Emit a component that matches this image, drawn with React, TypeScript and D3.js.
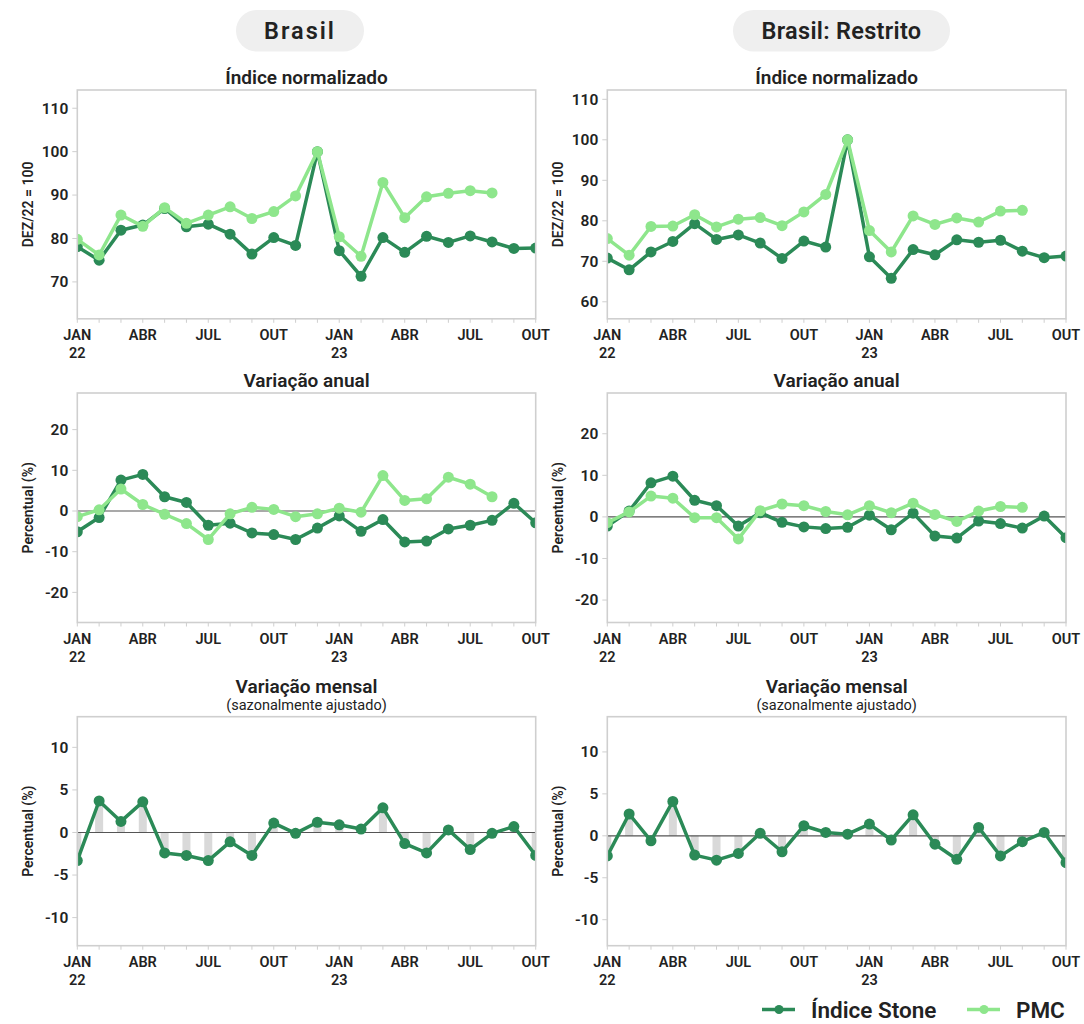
import React from "react";
import * as d3 from "d3";

// ---------- DATA ----------
const months = ["JAN","FEV","MAR","ABR","MAI","JUN","JUL","AGO","SET","OUT","NOV","DEZ",
  "JAN","FEV","MAR","ABR","MAI","JUN","JUL","AGO","SET","OUT"];
const xTickIdx = [0, 3, 6, 9, 12, 15, 18, 21];
const yearLabels: Record<number, string> = { 0: "22", 12: "23" };

const brasilIndiceStone = [78.1,75.0,81.9,83.1,86.9,82.7,83.3,81.0,76.4,80.2,78.4,100,77.2,71.3,80.2,76.8,80.5,79.1,80.6,79.2,77.7,77.8];
const brasilIndicePMC = [79.8,76.2,85.4,82.8,87.1,83.5,85.4,87.3,84.6,86.2,89.8,100,80.4,75.9,92.9,84.8,89.6,90.4,91.0,90.5];
const restritoIndiceStone = [70.8,67.9,72.3,74.9,79.3,75.4,76.5,74.5,70.7,75.0,73.5,100,71.1,65.8,72.9,71.6,75.3,74.7,75.2,72.5,70.9,71.3];
const restritoIndicePMC = [75.6,71.5,78.6,78.7,81.5,78.5,80.4,80.8,78.8,82.2,86.5,100,77.6,72.3,81.2,79.1,80.7,79.7,82.4,82.6];

const brasilAnualStone = [-5.1,-1.6,7.6,9.0,3.5,2.1,-3.5,-3.0,-5.4,-5.8,-7.0,-4.2,-1.2,-5.0,-2.1,-7.6,-7.4,-4.4,-3.5,-2.3,1.9,-2.9];
const brasilAnualPMC = [-1.4,0.3,5.4,1.6,-0.8,-3.1,-7.0,-0.7,0.9,0.4,-1.4,-0.7,0.7,-0.3,8.7,2.6,3.0,8.3,6.6,3.5];
const restritoAnualStone = [-2.2,1.4,8.2,9.8,4.0,2.7,-2.2,1.0,-1.3,-2.4,-2.8,-2.5,0.4,-3.1,0.9,-4.6,-5.1,-1.0,-1.6,-2.7,0.2,-5.0];
const restritoAnualPMC = [-1.4,1.2,5.0,4.5,-0.2,-0.2,-5.3,1.5,3.1,2.7,1.3,0.5,2.7,1.0,3.3,0.6,-1.1,1.4,2.5,2.3];

const brasilMensalStone = [-3.3,3.7,1.3,3.6,-2.4,-2.7,-3.3,-1.1,-2.7,1.1,-0.1,1.2,0.9,0.4,2.9,-1.3,-2.4,0.3,-2.0,-0.1,0.7,-2.7];
const restritoMensalStone = [-2.4,2.6,-0.6,4.1,-2.3,-2.9,-2.1,0.3,-1.9,1.2,0.4,0.2,1.4,-0.5,2.5,-1.0,-2.8,1.0,-2.4,-0.7,0.4,-3.2];

const indiceTicksBrasil = [70, 80, 90, 100, 110];
const indiceTicksRestrito = [60, 70, 80, 90, 100, 110];
const anualTicks = [-20, -10, 0, 10, 20];
const mensalTicks = [-10, -5, 0, 5, 10];

const headers = ["Brasil", "Brasil: Restrito"];
const seriesNames = ["Índice Stone", "PMC"];

// ---------- STYLE ----------
const FONT = "Roboto, 'Noto Sans', sans-serif";
const C_STONE = "#2b8a57";
const C_PMC = "#8ee68c";
const TXT = "#222";
const BORDER = "#cfcfcf";

const cols = [
  { x0: 77.3, x1: 535.7 },
  { x0: 607.3, x1: 1066 },
];
const rows = [
  { y0: 90, y1: 318.8 },
  { y0: 393, y1: 622.5 },
  { y0: 716.7, y1: 945.7 },
];

type PanelProps = {
  id: string;
  col: number;
  row: number;
  domain: [number, number];
  ticks: number[];
  stone: number[];
  pmc?: number[];
  bars?: boolean;
  zero?: boolean;
  yLabel: string;
  title: string;
  subtitle?: string;
};

function Panel(p: PanelProps) {
  const { x0, x1 } = cols[p.col];
  const { y0, y1 } = rows[p.row];
  const x = d3.scaleLinear().domain([0, months.length - 1]).range([x0, x1]);
  const y = d3.scaleLinear().domain(p.domain).range([y1, y0]);
  const line = d3.line<number>().x((_, i) => x(i)).y((d) => y(d));
  const cx = (x0 + x1) / 2;
  const clipId = "clip-" + p.id;
  const renderSeries = (data: number[], color: string) => (
    <g>
      <path d={line(data) || ""} fill="none" stroke={color} strokeWidth={3.5} strokeLinejoin="round" />
      {data.map((d, i) => (
        <circle key={i} cx={x(i)} cy={y(d)} r={5.5} fill={color} />
      ))}
    </g>
  );
  return (
    <g>
      <defs>
        <clipPath id={clipId}>
          <rect x={x0} y={y0} width={x1 - x0} height={y1 - y0} />
        </clipPath>
      </defs>
      {/* title */}
      <text x={cx} y={p.row === 2 ? y0 - 24 : y0 - 6} textAnchor="middle" fontSize={19} fontWeight={600} fill={TXT} fontFamily={FONT}>
        {p.title}
      </text>
      {p.subtitle && (
        <text x={cx} y={y0 - 7} textAnchor="middle" fontSize={14.5} fill={TXT} fontFamily={FONT}>
          {p.subtitle}
        </text>
      )}
      {/* y axis ticks */}
      {p.ticks.map((t) => (
        <g key={t}>
          <line x1={x0 - 5} x2={x0} y1={y(t)} y2={y(t)} stroke={BORDER} strokeWidth={1} />
          <text x={x0 - 9} y={y(t)} dy="0.35em" textAnchor="end" fontSize={15.5} fontWeight={600} fill={TXT} fontFamily={FONT}>
            {t}
          </text>
        </g>
      ))}
      {/* y label */}
      <text
        transform={`translate(${x0 - 49},${(y0 + y1) / 2}) rotate(-90)`}
        textAnchor="middle"
        dy="0.35em"
        fontSize={14}
        fontWeight={600}
        fill={TXT}
        fontFamily={FONT}
      >
        {p.yLabel}
      </text>
      {/* x ticks */}
      {months.map((_, i) => (
        <line key={i} x1={x(i)} x2={x(i)} y1={y1} y2={y1 + 4} stroke={BORDER} strokeWidth={1} />
      ))}
      {xTickIdx.map((i) => (
        <g key={"xl" + i}>
          <text x={x(i)} y={y1 + 21} textAnchor="middle" fontSize={14.5} fontWeight={600} fill={TXT} fontFamily={FONT}>
            {months[i]}
          </text>
          {yearLabels[i] && (
            <text x={x(i)} y={y1 + 39} textAnchor="middle" fontSize={14.5} fontWeight={600} fill={TXT} fontFamily={FONT}>
              {yearLabels[i]}
            </text>
          )}
        </g>
      ))}
      <g clipPath={`url(#${clipId})`}>
        {p.bars &&
          p.stone.map((d, i) => (
            <rect
              key={"b" + i}
              x={x(i) - 4}
              width={8}
              y={Math.min(y(d), y(0))}
              height={Math.abs(y(d) - y(0))}
              fill="#d9d9d9"
            />
          ))}
        {p.zero && <line x1={x0} x2={x1} y1={y(0)} y2={y(0)} stroke="#555" strokeWidth={1.2} />}
        {renderSeries(p.stone, C_STONE)}
        {p.pmc && renderSeries(p.pmc, C_PMC)}
      </g>
      <rect x={x0} y={y0} width={x1 - x0} height={y1 - y0} fill="none" stroke={BORDER} strokeWidth={1.6} />
    </g>
  );
}

export default function App() {
  const pills = [
    { cx: 300, w: 128 },
    { cx: 841.5, w: 217 },
  ];
  return (
    <svg width={1084} height={1024} style={{ position: "absolute", left: 0, top: 0, background: "#fff" }}>
      {pills.map((pl, i) => (
        <g key={i}>
          <rect x={pl.cx - pl.w / 2} y={10} width={pl.w} height={41.5} rx={20.75} fill="#efefef" />
          <text
            x={pl.cx}
            y={31}
            dy="0.35em"
            textAnchor="middle"
            fontSize={23.5}
            fontWeight={600}
            letterSpacing={i === 0 ? 2 : 0.3}
            fill={TXT}
            fontFamily={FONT}
          >
            {headers[i]}
          </text>
        </g>
      ))}
      <Panel id="bi" col={0} row={0} domain={[61.5, 114.2]} ticks={indiceTicksBrasil} stone={brasilIndiceStone} pmc={brasilIndicePMC} yLabel="DEZ/22 = 100" title="Índice normalizado" />
      <Panel id="ri" col={1} row={0} domain={[55.8, 112.3]} ticks={indiceTicksRestrito} stone={restritoIndiceStone} pmc={restritoIndicePMC} yLabel="DEZ/22 = 100" title="Índice normalizado" />
      <Panel id="ba" col={0} row={1} domain={[-27.4, 29.0]} ticks={anualTicks} stone={brasilAnualStone} pmc={brasilAnualPMC} zero yLabel="Percentual (%)" title="Variação anual" />
      <Panel id="ra" col={1} row={1} domain={[-25.4, 29.8]} ticks={anualTicks} stone={restritoAnualStone} pmc={restritoAnualPMC} zero yLabel="Percentual (%)" title="Variação anual" />
      <Panel id="bm" col={0} row={2} domain={[-13.3, 13.6]} ticks={mensalTicks} stone={brasilMensalStone} bars zero yLabel="Percentual (%)" title="Variação mensal" subtitle="(sazonalmente ajustado)" />
      <Panel id="rm" col={1} row={2} domain={[-13.1, 14.2]} ticks={mensalTicks} stone={restritoMensalStone} bars zero yLabel="Percentual (%)" title="Variação mensal" subtitle="(sazonalmente ajustado)" />
      {/* legend */}
      {[
        { x: 762, tx: 811, c: C_STONE },
        { x: 967, tx: 1016, c: C_PMC },
      ].map((l, i) => (
        <g key={i}>
          <line x1={l.x} x2={l.x + 33} y1={1009.5} y2={1009.5} stroke={l.c} strokeWidth={3.5} />
          <circle cx={l.x + 17} cy={1009.5} r={4.5} fill={l.c} />
          <text x={l.tx} y={1010} dy="0.35em" fontSize={22.5} fontWeight={600} fill={TXT} fontFamily={FONT}>
            {seriesNames[i]}
          </text>
        </g>
      ))}
    </svg>
  );
}
